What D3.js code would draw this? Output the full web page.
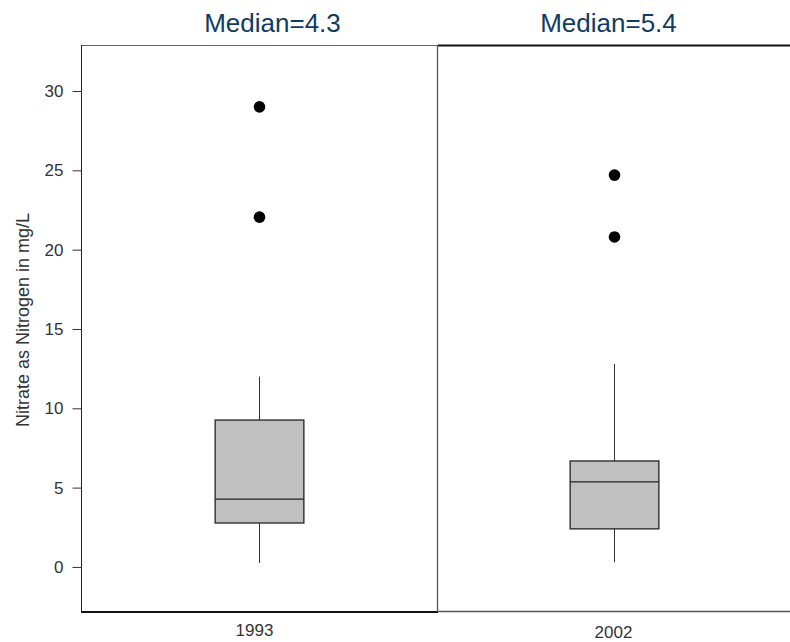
<!DOCTYPE html>
<html>
<head>
<meta charset="utf-8">
<script src="https://cdn.jsdelivr.net/npm/d3@7"></script>
<style>
  body { margin: 0; background: #fff; }
  svg { display: block; font-family: "Liberation Sans", Arial, sans-serif; }
</style>
</head>
<body>
<div class="svg-container"></div>
<script>
var width = 790;
var height = 642;

// values
var years = ["1993", "2002"];
var titles = ["Median=4.3", "Median=5.4"];
var q1 = [2.77, 2.4];
var medians = [4.28, 5.36];
var q3 = [9.26, 6.68];
var whiskerLow = [0.25, 0.3];
var whiskerHigh = [12.0, 12.8];
var outliers = [[29.0, 22.05], [24.7, 20.8]];
var yTicks = [0, 5, 10, 15, 20, 25, 30];

var boxes = years.map(function(d, i) {
  return { year: d, title: titles[i], q1: q1[i], median: medians[i], q3: q3[i],
           lo: whiskerLow[i], hi: whiskerHigh[i], out: outliers[i] };
});

var plotLeft = 81, plotMid = 438, plotRight = 790, plotTop = 45, plotBottom = 612;

var svg = d3.select(".svg-container").append("svg")
            .attr("width", width)
            .attr("height", height);

var y = d3.scaleLinear().domain([-2.84, 32.9]).range([plotBottom, plotTop]);
var x = d3.scaleBand().domain(years).range([82, 792]);
var boxW = x.bandwidth() * 0.25;

// panel frames
var frame = svg.append("g").attr("fill", "none");
frame.append("line").attr("x1", plotLeft).attr("x2", plotMid).attr("y1", plotTop + 0.5).attr("y2", plotTop + 0.5)
     .attr("stroke", "#666").attr("stroke-width", 1);
frame.append("line").attr("x1", plotMid).attr("x2", plotRight).attr("y1", plotTop + 0.5).attr("y2", plotTop + 0.5)
     .attr("stroke", "#111").attr("stroke-width", 2);
frame.append("line").attr("x1", plotLeft).attr("x2", plotMid).attr("y1", plotBottom).attr("y2", plotBottom)
     .attr("stroke", "#111").attr("stroke-width", 2);
frame.append("line").attr("x1", plotMid).attr("x2", plotRight).attr("y1", plotBottom - 0.5).attr("y2", plotBottom - 0.5)
     .attr("stroke", "#555").attr("stroke-width", 1.3);
frame.append("line").attr("x1", plotMid - 0.5).attr("x2", plotMid - 0.5).attr("y1", plotTop).attr("y2", plotBottom)
     .attr("stroke", "#555").attr("stroke-width", 1.3);

// y axis
var yAxis = svg.append("g")
               .attr("transform", "translate(" + (plotLeft + 0.5) + ",0)")
               .call(d3.axisLeft(y).tickValues(yTicks).tickSize(9).tickSizeOuter(0).tickPadding(9));
yAxis.select(".domain").attr("stroke", "#222").attr("d", "M0," + plotTop + "V" + plotBottom);
yAxis.selectAll(".tick line").attr("stroke", "#333");
yAxis.selectAll(".tick text").attr("fill", "#333").style("font-size", "17px")
     .style("font-family", "'Liberation Sans', Arial, sans-serif");

svg.append("text")
   .attr("transform", "translate(29,320) rotate(-90)")
   .attr("text-anchor", "middle")
   .attr("fill", "#333")
   .style("font-size", "18px")
   .text("Nitrate as Nitrogen in mg/L");

var groups = svg.selectAll("g.box")
                .data(boxes)
                .enter()
                .append("g")
                .attr("class", "box");

// whiskers
groups.append("line")
      .attr("x1", function(d) { return x(d.year) + x.bandwidth() / 2; })
      .attr("x2", function(d) { return x(d.year) + x.bandwidth() / 2; })
      .attr("y1", function(d) { return y(d.lo); })
      .attr("y2", function(d) { return y(d.q1); })
      .attr("stroke", "#333");
groups.append("line")
      .attr("x1", function(d) { return x(d.year) + x.bandwidth() / 2; })
      .attr("x2", function(d) { return x(d.year) + x.bandwidth() / 2; })
      .attr("y1", function(d) { return y(d.q3); })
      .attr("y2", function(d) { return y(d.hi); })
      .attr("stroke", "#333");

groups.append("rect")
      .attr("x", function(d) { return x(d.year) + x.bandwidth() / 2 - boxW / 2; })
      .attr("y", function(d) { return y(d.q3); })
      .attr("width", boxW)
      .attr("height", function(d) { return y(d.q1) - y(d.q3); })
      .attr("fill", "#c0c0c0")
      .attr("stroke", "#222")
      .attr("stroke-width", 1.3);

groups.append("line")
      .attr("x1", function(d) { return x(d.year) + x.bandwidth() / 2 - boxW / 2; })
      .attr("x2", function(d) { return x(d.year) + x.bandwidth() / 2 + boxW / 2; })
      .attr("y1", function(d) { return y(d.median); })
      .attr("y2", function(d) { return y(d.median); })
      .attr("stroke", "#222")
      .attr("stroke-width", 1.3);

groups.selectAll("circle")
      .data(function(d) { return d.out.map(function(v) { return { year: d.year, v: v }; }); })
      .enter()
      .append("circle")
      .attr("cx", function(d) { return x(d.year) + x.bandwidth() / 2; })
      .attr("cy", function(d) { return y(d.v); })
      .attr("r", 5.8)
      .style("fill", "#000");

// titles and year labels
var titleShift = [13, -6];
groups.append("text")
      .attr("x", function(d, i) { return x(d.year) + x.bandwidth() / 2 + titleShift[i]; })
      .attr("y", 32)
      .attr("text-anchor", "middle")
      .attr("fill", "#0d3c66")
      .style("font-size", "26px")
      .text(function(d) { return d.title; });

var labelShift = [-5, -1];
groups.append("text")
      .attr("x", function(d, i) { return x(d.year) + x.bandwidth() / 2 + labelShift[i]; })
      .attr("y", function(d, i) { return i == 0 ? 636 : 638; })
      .attr("text-anchor", "middle")
      .attr("fill", "#333")
      .style("font-size", "17px")
      .text(function(d) { return d.year; });
</script>
</body>
</html>
